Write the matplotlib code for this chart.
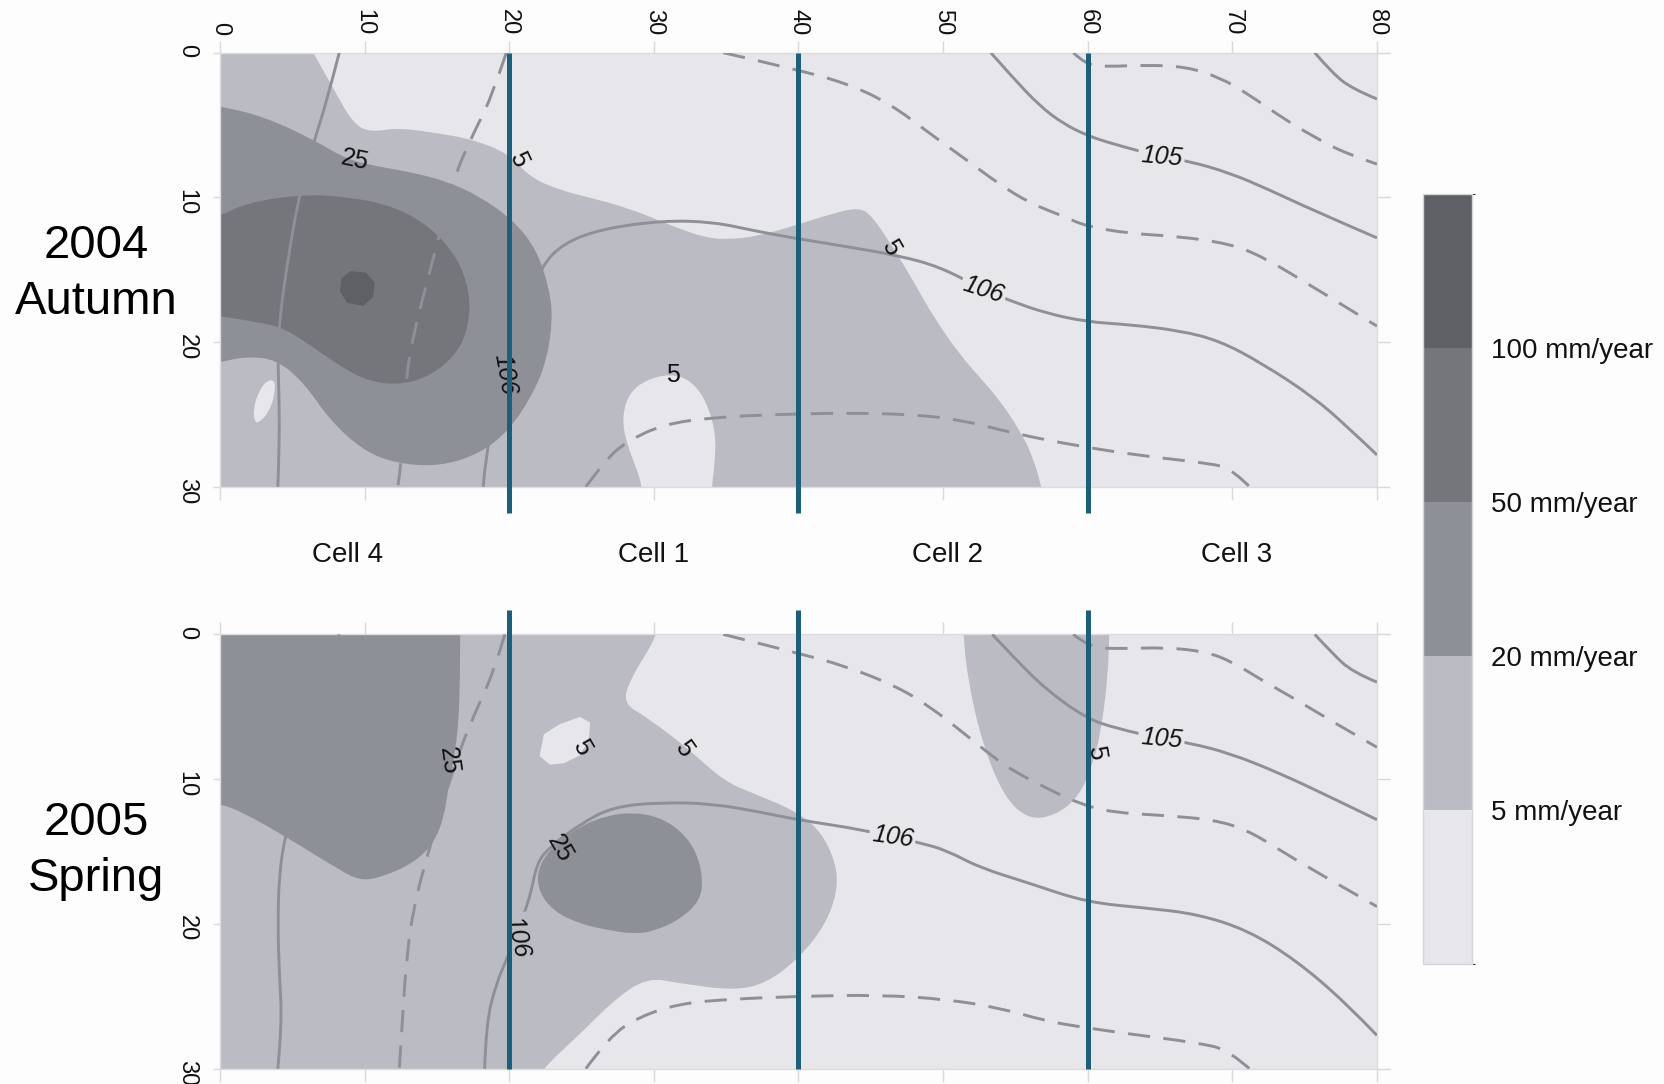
import numpy as np
import matplotlib
matplotlib.use("Agg")
import matplotlib.pyplot as plt
from matplotlib.path import Path
from matplotlib.patches import PathPatch
from matplotlib.colors import ListedColormap, BoundaryNorm
from matplotlib.cm import ScalarMappable

plt.rcParams['font.family'] = ['Liberation Sans', 'DejaVu Sans']

# ---------------------------------------------------------------------------
# Recharge-rate classes (mm/year) and their grey shades
rate_levels = [0, 5, 20, 50, 100, 200]
rate_colors = ['#e6e6eb', '#bbbcc3', '#8e9097', '#75767c', '#5e6065']
rate_ticks = [5, 20, 50, 100]

# Cell partition along the transect (m)
cell_bounds = [20, 40, 60]
cell_names = ['Cell 4', 'Cell 1', 'Cell 2', 'Cell 3']
cell_centers = [8.8, 30.0, 50.3, 70.3]

x_ticks = [0, 10, 20, 30, 40, 50, 60, 70, 80]
y_ticks = [0, 10, 20, 30]

# ---------------------------------------------------------------------------
# 2004 Autumn: recharge class boundaries (x, depth) in m
aut_zone_5_20 = [(5.4, -2), (5.4, -2), (6.45, 0), (7.8, 2.4), (9.2, 4.9), (10.4, 5.5),
                 (12.2, 5.2), (14.7, 5.5), (17.5, 6.0), (20.0, 7.0), (21.4, 8.6),
                 (23.5, 9.5), (25.5, 10.0), (28.3, 10.75), (31.3, 12.0), (33.6, 12.8),
                 (35.2, 12.9), (37.1, 12.7), (39.6, 12.0), (42.4, 11.1), (44.2, 10.7),
                 (45.1, 11.3), (46.5, 13.4), (47.9, 15.7), (49.3, 18.2), (51.1, 20.8),
                 (52.5, 22.4), (53.9, 24.0), (55.3, 26.1), (56.2, 27.9), (56.8, 30),
                 (57.2, 32), (57.2, 32), (-2, 32), (-2, 32), (-2, -2), (-2, -2)]
aut_zone_20_50 = [(-2, 3.4), (-2, 3.4), (0, 3.7), (3.0, 4.4), (6.45, 6.0), (8.8, 7.4),
                  (11.1, 7.9), (13.4, 8.3), (15.7, 8.9), (18.0, 9.95), (20.3, 11.6),
                  (21.9, 13.6), (22.8, 16.4), (23.0, 18.5), (22.6, 21.2), (21.7, 23.5),
                  (20.0, 26.1), (18.0, 27.7), (15.2, 28.6), (12.2, 28.4), (9.9, 27.5),
                  (7.6, 25.4), (5.8, 22.8), (3.9, 21.2), (1.8, 21.0), (0, 21.4),
                  (-2, 21.7), (-2, 21.7)]
aut_zone_50_100 = [(-2, 11.8), (-2, 11.8), (0, 11.3), (1.8, 10.4), (5.5, 9.8), (8.8, 9.95),
                   (12.0, 10.6), (14.5, 12.0), (16.4, 14.1), (17.3, 16.6), (17.2, 18.9),
                   (16.4, 20.8), (14.5, 22.4), (12.2, 23.0), (9.9, 22.6), (7.6, 21.2),
                   (5.8, 19.9), (4.1, 18.9), (1.8, 18.5), (0, 18.2), (-2, 18.0), (-2, 18.0)]
aut_zone_100_up = [(9.0, 15.1), (10.1, 15.2), (10.7, 15.9), (10.6, 16.9), (9.9, 17.5),
                   (8.8, 17.3), (8.3, 16.5), (8.4, 15.6)]
aut_low_a = [(29.1, 32), (29.1, 32), (29.3, 30), (28.1, 27.0), (27.8, 25.2), (28.3, 23.5),
             (29.5, 22.6), (31.1, 22.2), (32.5, 22.6), (33.6, 24.0), (34.3, 26.3),
             (34.2, 28.6), (34.0, 30), (33.9, 32), (33.9, 32)]
aut_low_b = [(2.4, 25.6), (2.3, 24.6), (2.7, 23.4), (3.2, 22.7), (3.8, 22.6), (3.8, 23.6),
             (3.4, 24.8), (2.8, 25.5)]

# 2004 Autumn: hydraulic head isolines (solid = whole metre, dashed = half metre)
aut_head_a = [(8.25, 0), (7.4, 3.3), (6.45, 6.3), (5.5, 9.8), (4.8, 13.6), (4.1, 18.5),
              (4.0, 21.2), (4.1, 24.0), (4.1, 27.5), (4.0, 30)]
aut_head_106 = [(18.2, 30), (18.4, 27.7), (19.0, 25.0), (19.9, 22.2), (21.0, 18.0),
                (22.2, 14.8), (23.7, 13.2), (26.3, 12.2), (30.6, 11.6), (34.1, 11.7),
                (36.9, 12.3), (39.6, 12.8), (43.3, 13.4), (46.8, 14.0), (49.8, 14.8),
                (52.8, 16.4), (54.8, 17.2), (57.1, 18.0), (59.9, 18.6), (62.9, 18.8),
                (66.3, 19.2), (69.1, 19.9), (72.1, 21.5), (75.6, 23.8), (77.9, 25.8),
                (80, 27.8)]
aut_head_105 = [(53.3, 0), (54.8, 1.7), (56.7, 3.7), (58.3, 4.9), (59.9, 5.7), (61.7, 6.3),
                (65.1, 7.2), (67.0, 7.5), (69.8, 8.3), (72.6, 9.5), (75.6, 10.9), (80, 12.8)]
aut_head_f = [(75.7, 0), (76.9, 1.4), (78.3, 2.5), (80, 3.2)]
aut_half_b = [(19.8, 0), (18.7, 3.3), (17.5, 5.6), (16.1, 8.8), (15.1, 12.9), (14.3, 15.9),
              (13.4, 19.4), (12.9, 22.2), (12.6, 26.0), (12.6, 27.9), (12.3, 30)]
aut_half_d = [(34.8, 0), (39.6, 1.1), (43.3, 2.1), (46.3, 3.5), (49.1, 5.6), (51.6, 7.4),
              (53.9, 9.1), (56.0, 10.4), (58.3, 11.3), (59.9, 12.0), (62.9, 12.5),
              (66.3, 12.7), (69.8, 13.2), (72.1, 14.1), (75.6, 16.2), (80, 18.9)]
aut_half_g = [(59.0, 0), (59.9, 0.85), (61.3, 0.97), (64.0, 0.85), (66.8, 0.97), (69.1, 1.7),
              (71.0, 2.8), (73.3, 4.4), (75.6, 5.8), (77.9, 7.0), (80, 7.7)]
aut_half_h = [(25.3, 30), (26.7, 28.1), (28.1, 26.9), (30.6, 25.7), (34.1, 25.2), (38.7, 25.0),
              (43.3, 24.9), (47.9, 25.0), (51.4, 25.4), (54.8, 26.3), (59.4, 27.2),
              (64.0, 27.9), (68.6, 28.4), (70.0, 28.8), (71.4, 30.2)]

# 2004 Autumn: isoline labels (text, x, depth, angle)
aut_rate_labels = [('25', 9.3, 7.4, -12), ('5', 20.6, 7.4, -65), ('5', 46.4, 13.5, -60),
                   ('5', 31.3, 22.3, 0)]
aut_head_labels = [('106', 19.7, 22.2, -80, 2), ('106', 52.8, 16.4, -18, 0),
                   ('105', 65.1, 7.2, -5, 0)]

# ---------------------------------------------------------------------------
# 2005 Spring: recharge class boundaries (x, depth) in m
spr_zone_5_20 = [(30.6, -2), (30.6, -2), (30.3, 0), (28.3, 3.2), (27.9, 4.8), (29.5, 5.7),
                 (32.5, 8.0), (34.8, 10.1), (36.9, 11.0), (39.6, 12.1), (41.5, 13.5),
                 (42.6, 15.8), (42.7, 17.7), (41.9, 20.0), (40.1, 22.3), (37.8, 24.1),
                 (35.5, 24.6), (31.8, 24.1), (29.5, 23.7), (27.2, 25.3), (24.9, 27.6),
                 (22.3, 30), (21.0, 32), (21.0, 32), (-2, 32), (-2, 32), (-2, -2), (-2, -2)]
spr_zone_5_20_east = [(51.3, -2), (51.3, -2), (51.4, 0), (51.7, 3.1), (52.7, 7.5),
                      (54.2, 11.2), (55.9, 12.8), (57.8, 12.5), (59.4, 11.2), (60.4, 8.9),
                      (61.0, 6.2), (61.4, 2.7), (61.5, 0), (61.5, -2), (61.5, -2)]
spr_zone_20_50 = [(-2, -2), (-2, -2), (16.7, -2), (16.7, -2), (16.6, 0), (16.6, 3),
                  (16.5, 6.1), (16.2, 8.5), (15.8, 10.5), (15.5, 12.6), (14.8, 14.4),
                  (13.4, 15.8), (11.1, 16.8), (9.7, 17.0), (8.3, 16.3), (4.6, 14.0),
                  (1.6, 12.3), (0, 11.7), (-2, 11.4), (-2, 11.4)]
spr_zone_20_50_east = [(21.9, 17.5), (22.1, 15.8), (23.3, 14.4), (25.0, 13.2), (26.8, 12.5),
                       (28.6, 12.3), (30.3, 12.6), (31.8, 13.5), (32.9, 14.9), (33.4, 16.8),
                       (33.2, 18.4), (31.8, 19.7), (30.0, 20.5), (28.6, 20.7), (26.7, 20.4),
                       (24.9, 20.0), (23.0, 19.1)]
spr_low_a = [(22.1, 8.4), (22.4, 6.9), (23.5, 6.2), (24.9, 5.7), (25.6, 6.1), (25.5, 7.4),
             (24.8, 8.4), (23.8, 8.9), (22.8, 9.0)]

# 2005 Spring: hydraulic head isolines
spr_head_a = [(8.25, 0), (7.4, 3.3), (6.45, 6.3), (5.5, 9.8), (4.5, 14.0), (4.1, 16.5),
              (4.0, 20.0), (4.1, 23.4), (4.3, 26.9), (4.0, 30)]
spr_head_106 = [(18.3, 30), (18.4, 26.9), (19.1, 24.1), (19.9, 22.3), (21.4, 18.4),
                (21.9, 15.8), (22.8, 14.7), (24.9, 13.1), (27.2, 11.9), (30.6, 11.6),
                (34.1, 11.7), (37.5, 12.3), (39.9, 12.8), (44.5, 13.5), (48.4, 14.4),
                (50.2, 14.9), (52.5, 16.1), (56.0, 17.2), (59.9, 18.5), (64.0, 18.9),
                (67.5, 19.3), (71.0, 20.4), (74.4, 22.5), (77.9, 25.5), (80, 27.7)]
spr_head_105 = [(53.4, 0), (54.8, 1.5), (57.1, 3.8), (59.9, 5.8), (62.0, 6.5), (65.1, 7.2),
                (67.0, 7.5), (69.8, 8.2), (73.3, 9.6), (76.7, 11.2), (80, 12.8)]
spr_head_f = [(75.7, 0), (76.9, 1.3), (78.3, 2.6), (80, 3.3)]
spr_half_b = [(19.7, 0), (18.9, 2.7), (17.5, 5.7), (16.4, 8.5), (15.3, 12.0), (14.3, 15.4),
              (13.4, 18.8), (12.9, 22.3), (12.6, 26.9), (12.4, 30)]
spr_half_d = [(34.8, 0), (39.6, 1.2), (43.3, 2.2), (46.8, 3.6), (49.1, 5.0), (51.4, 6.8),
              (53.5, 8.5), (54.8, 9.4), (57.1, 10.6), (59.4, 11.7), (61.7, 12.3),
              (65.2, 12.5), (68.7, 12.8), (71.0, 13.5), (73.3, 14.9), (75.6, 16.3), (80, 18.8)]
spr_half_g = [(59.0, 0), (60.1, 0.9), (62.2, 1.0), (65.4, 0.9), (68.2, 1.2), (70.0, 1.9),
              (72.1, 3.2), (74.4, 4.5), (76.7, 5.9), (80, 7.8)]
spr_half_h = [(25.3, 30), (26.9, 27.8), (29.0, 26.4), (31.8, 25.5), (35.2, 25.2), (39.9, 25.0),
              (45.6, 24.9), (50.2, 25.2), (53.9, 25.8), (57.1, 26.7), (59.4, 27.1),
              (62.9, 27.6), (67.5, 28.2), (69.8, 28.7), (71.4, 30.2)]

spr_rate_labels = [('25', 15.8, 8.7, -82), ('5', 25.0, 7.8, -60), ('5', 32.1, 7.9, -55),
                   ('25', 23.5, 14.8, -60), ('5', 60.6, 8.2, -80)]
spr_head_labels = [('106', 20.6, 20.9, -78, 1), ('106', 46.5, 14.0, -8, 0),
                   ('105', 65.1, 7.2, -5, 0)]

# ---------------------------------------------------------------------------
LINE_GREY = rate_colors[2]
TICK_GREY = '#d9d9de'
TEAL = '#1d5f78'
LINE_W = 2.1


def curve_path(points, closed=False):
    """Quadratic-Bezier path through the midpoints of the given vertices."""
    p = np.asarray(points, dtype=float)
    n = len(p)
    if closed:
        mids = (p + np.roll(p, -1, axis=0)) / 2.0
        verts = [mids[-1]]
        codes = [Path.MOVETO]
        for i in range(n):
            verts += [p[i], mids[i]]
            codes += [Path.CURVE3, Path.CURVE3]
        verts.append(mids[-1])
        codes.append(Path.CLOSEPOLY)
        return Path(verts, codes)
    if n < 3:
        return Path(p, [Path.MOVETO] + [Path.LINETO] * (n - 1))
    verts = [p[0]]
    codes = [Path.MOVETO]
    for i in range(1, n - 2):
        verts += [p[i], (p[i] + p[i + 1]) / 2.0]
        codes += [Path.CURVE3, Path.CURVE3]
    verts += [p[n - 2], p[n - 1]]
    codes += [Path.CURVE3, Path.CURVE3]
    return Path(verts, codes)


def draw_panel(ax, zones, solid, dashed, rate_labels, head_labels, teal_span, xlabels):
    ax.set_xlim(0, 80)
    ax.set_ylim(30, 0)
    ax.set_facecolor(rate_colors[0])

    for band, pts, smooth in zones:
        if smooth:
            path = curve_path(pts, closed=True)
        else:
            path = Path(list(pts) + [pts[0]], closed=True)
        ax.add_patch(PathPatch(path, facecolor=rate_colors[band], edgecolor='none',
                               zorder=1))

    for pts in solid:
        ax.add_patch(PathPatch(curve_path(pts), facecolor='none', edgecolor=LINE_GREY,
                               lw=LINE_W, zorder=3, capstyle='butt'))
    for pts in dashed:
        ax.add_patch(PathPatch(curve_path(pts), facecolor='none', edgecolor=LINE_GREY,
                               lw=LINE_W, zorder=3, linestyle=(0, (7.6, 4.6)),
                               capstyle='butt'))

    for s, x, y, ang in rate_labels:
        ax.text(x, y, s, rotation=ang, rotation_mode='anchor', ha='center', va='center',
                fontsize=18, color='#111111', zorder=4)
    for s, x, y, ang, band in head_labels:
        ax.text(x, y, s, rotation=ang, rotation_mode='anchor', ha='center', va='center',
                fontsize=18, style='italic', color='#111111', zorder=4,
                bbox=dict(boxstyle='square,pad=0.1', fc=rate_colors[band], ec='none'))

    for xb in cell_bounds:
        ax.plot([xb, xb], teal_span, color=TEAL, lw=3.6, solid_capstyle='butt',
                clip_on=False, zorder=6)

    ax.set_xticks(x_ticks)
    ax.set_yticks(y_ticks)
    ax.tick_params(axis='x', top=True, bottom=True, labeltop=xlabels, labelbottom=False,
                   length=9, width=1, color=TICK_GREY, labelsize=17, labelrotation=-90,
                   pad=3.5, labelcolor='#111111')
    ax.tick_params(axis='y', left=True, right=True, labelleft=True, labelright=False,
                   length=5, width=1, color=TICK_GREY, labelsize=17, labelrotation=-90,
                   pad=11, labelcolor='#111111')
    for t in ax.yaxis.get_major_ticks():
        t.tick2line.set_markersize(9)
    for sp in ax.spines.values():
        sp.set_color('#dcdce0')
        sp.set_linewidth(1)
        sp.set_zorder(2)


fig = plt.figure(figsize=(16.65, 10.84), dpi=100, facecolor='#fdfdfd')
ax_top = fig.add_axes([0.1321, 0.5510, 0.6949, 0.4004])
ax_bot = fig.add_axes([0.1321, 0.0141, 0.6949, 0.4007])

draw_panel(ax_top,
           [(1, aut_zone_5_20, True), (0, aut_low_a, True), (0, aut_low_b, True),
            (2, aut_zone_20_50, True), (3, aut_zone_50_100, True),
            (4, aut_zone_100_up, False)],
           [aut_head_a, aut_head_106, aut_head_105, aut_head_f],
           [aut_half_b, aut_half_d, aut_half_g, aut_half_h],
           aut_rate_labels, aut_head_labels, (0, 31.85), True)

draw_panel(ax_bot,
           [(1, spr_zone_5_20, True), (1, spr_zone_5_20_east, True),
            (0, spr_low_a, False), (2, spr_zone_20_50, True),
            (2, spr_zone_20_50_east, True)],
           [spr_head_a, spr_head_106, spr_head_105, spr_head_f],
           [spr_half_b, spr_half_d, spr_half_g, spr_half_h],
           spr_rate_labels, spr_head_labels, (-1.7, 30), False)

for name, xc in zip(cell_names, cell_centers):
    ax_top.text(xc, 34.7, name, ha='center', va='center', fontsize=20,
                color='#111111', clip_on=False)

fig.text(96 / 1665, 1 - 274 / 1084, '2004\nAutumn', ha='center', va='center',
         fontsize=34, linespacing=1.36, color='#000000')
fig.text(96 / 1665, 1 - 851 / 1084, '2005\nSpring', ha='center', va='center',
         fontsize=34, linespacing=1.36, color='#000000')

# Recharge-rate legend bar
cax = fig.add_axes([0.8547, 0.1107, 0.0294, 0.7103])
cmap = ListedColormap(rate_colors)
norm = BoundaryNorm(rate_levels, cmap.N)
cb = fig.colorbar(ScalarMappable(norm=norm, cmap=cmap), cax=cax, spacing='uniform',
                  ticks=rate_ticks)
cb.set_ticklabels([f'{v} mm/year' for v in rate_ticks])
cb.ax.tick_params(length=0, labelsize=20, pad=14, labelcolor='#111111')
cb.outline.set_edgecolor('#d6d6da')
cb.outline.set_linewidth(1)

fig.savefig('out.png', dpi=100, facecolor=fig.get_facecolor())
